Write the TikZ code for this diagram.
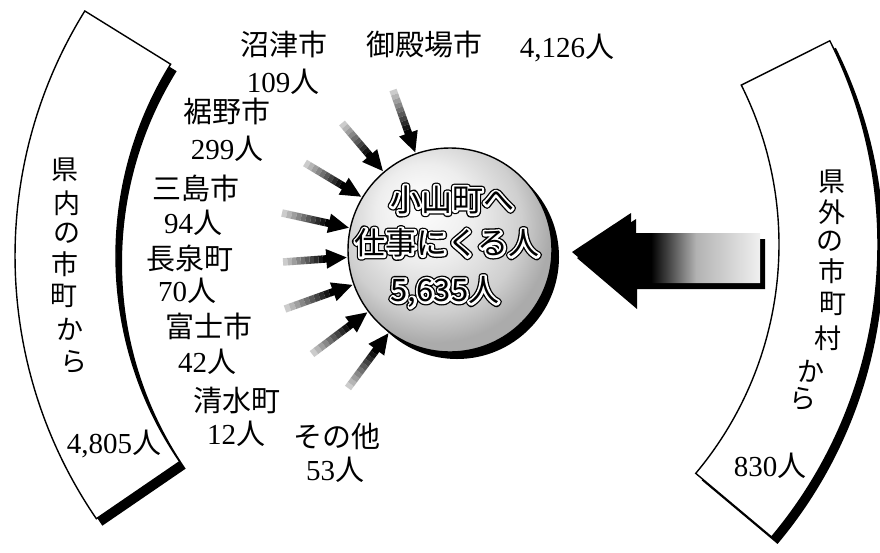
\documentclass[tikz,border=0pt]{standalone}
\usepackage{fontspec}
\setmainfont{Liberation Serif}
\newfontfamily\jp{Noto Sans CJK JP}
\usetikzlibrary{calc,arrows.meta}
\pgfdeclareradialshading{globe}{\pgfpoint{-8bp}{12bp}}{color(0bp)=(white); color(12bp)=(gray!14); color(22bp)=(gray!38); color(28bp)=(gray!66); color(50bp)=(gray!66)}
\pgfdeclarehorizontalshading{bigarrow}{100bp}{color(0bp)=(black); color(25bp)=(black); color(46bp)=(black); color(58bp)=(gray!60); color(75bp)=(gray!12); color(100bp)=(gray!12)}
\newcommand\bandL{([shift={(148.2:465)}]480,-256) arc[start angle=148.2,end angle=214.4,radius=465] -- ([shift={(214.4:364)}]480,-256) arc[start angle=214.4,end angle=148.2,radius=364] -- cycle}
\newcommand\bandR{([shift={(26.6:356)}]423,-244.5) -- ([shift={(26.6:455)}]423,-244.5) arc[start angle=26.6,end angle=-40,radius=455] -- ([shift={(-40:356)}]423,-244.5) arc[start angle=-40,end angle=26.6,radius=356] -- cycle}
\newcommand\bigarr{(572,-252) -- (631,-213) -- (631,-233) -- (760,-233) -- (760,-283) -- (632,-283) -- (632,-303) -- cycle}
% stroked text: #1 = stroke width
\newcommand\strokedtext[2]{\special{pdf:literal direct 2 Tr #1 w 1 j}#2\special{pdf:literal direct 0 Tr}}
\tikzset{
  lbl/.style={font=\fontsize{29}{31}\selectfont, inner sep=0pt, text=black},
  vch/.style={font=\jp\fontsize{27}{29}\selectfont, inner sep=0pt},
  ctxt/.style={font=\jp\fontsize{31}{33}\selectfont, inner sep=0pt},
  bandline/.style={draw=black, line width=1.4pt, fill=white, line join=miter},
}
\begin{document}
\begin{tikzpicture}[x=1pt,y=1pt]
\fill[white] (0,0) rectangle (880,-552);
\useasboundingbox (0,0) rectangle (880,-552);
% left band
\fill[black, shift={(6,-7)}] \bandL;
\path[bandline] \bandL;
% right band
\fill[black, shift={(6,-7)}] \bandR;
\path[bandline] \bandR;
% circle
\fill[black] (457,-257) circle[radius=102];
\node[circle, minimum size=204pt, inner sep=0pt, draw=black, line width=1.4pt, shading=globe] (circ) at (450,-250) {};
% big arrow
\fill[black, shift={(5,-6)}] \bigarr;
\shade[shading=bigarrow] \bigarr;
% small arrows
\foreach \tx/\ty [count=\k] in {393/90, 342/123, 305/163, 282/213, 283/262, 285/309, 312/354, 348/388} {
  \coordinate (t\k) at (\tx,-\ty);
  \coordinate (p\k) at ($(circ.center)!103pt!(t\k)$);
  \coordinate (h\k) at ($(p\k)!20pt!(t\k)$);
  \foreach \i in {0,...,9} {
    \pgfmathtruncatemacro\shd{20+9*\i}
    \draw[line width=7.5pt, color=black!\shd] ($(t\k)!\i/10!(h\k)$) -- ($(t\k)!{(\i+1)/10}!(h\k)$);
  }
  \draw[-{Triangle[length=21pt,width=18pt]}, line width=7.5pt] (h\k) -- (p\k);
}
% circle texts: black outer ring, white halo, black glyphs
\node[ctxt, text=black] (c1o) at (452,-200) {\strokedtext{7}{小山町へ}};
\node[ctxt, text=white] (c1w) at (452,-200) {\strokedtext{4.4}{小山町へ}};
\node[ctxt, text=black] (c1) at (452,-200) {小山町へ};
\node[ctxt, text=black] (c2o) at (447,-243) {\strokedtext{7}{仕事にくる人}};
\node[ctxt, text=white] (c2w) at (447,-243) {\strokedtext{4.4}{仕事にくる人}};
\node[ctxt, text=black] (c2) at (447,-243) {仕事にくる人};
\node[ctxt, text=black] (c3o) at (445,-292) {\strokedtext{7}{5,635人}};
\node[ctxt, text=white] (c3w) at (445,-292) {\strokedtext{4.4}{5,635人}};
\node[ctxt, text=black] (c3) at (445,-292) {5,635人};
% labels
\node[lbl] (numazu) at (284,-44) {\jp 沼津市};
\node[lbl] (numazuN) at (283,-82) {109{\jp 人}};
\node[lbl] (gotemba) at (424,-44) {\jp 御殿場市};
\node[lbl] (gotembaN) at (567,-48) {4,126{\jp 人}};
\node[lbl] (susono) at (227,-111) {\jp 裾野市};
\node[lbl] (susonoN) at (227,-149) {299{\jp 人}};
\node[lbl] (mishima) at (196,-188) {\jp 三島市};
\node[lbl] (mishimaN) at (193,-223) {94{\jp 人}};
\node[lbl] (nagaizumi) at (190,-258) {\jp 長泉町};
\node[lbl] (nagaizumiN) at (187,-291) {70{\jp 人}};
\node[lbl] (fuji) at (209,-326) {\jp 富士市};
\node[lbl] (fujiN) at (207,-362) {42{\jp 人}};
\node[lbl] (shimizu) at (237,-400) {\jp 清水町};
\node[lbl] (shimizuN) at (236,-434) {12{\jp 人}};
\node[lbl] (other) at (337,-436) {\jp その他};
\node[lbl] (otherN) at (335,-470) {53{\jp 人}};
\node[lbl] (inN) at (114,-444) {4,805{\jp 人}};
\node[lbl] (outN) at (770,-466) {830{\jp 人}};
% vertical texts
\foreach \c/\x/\y [count=\k] in {県/65/170, 内/67/203, の/67/233, 市/65/264, 町/64/296, か/70/329, ら/74/362}
  \node[vch] (lv\k) at (\x,-\y) {\c};
\foreach \c/\x/\y [count=\k] in {県/832/182, 外/832/212, の/830/241, 市/832/271, 町/833/304, 村/828/338, か/811/371, ら/803/399}
  \node[vch] (rv\k) at (\x,-\y) {\c};
\end{tikzpicture}
\end{document}
